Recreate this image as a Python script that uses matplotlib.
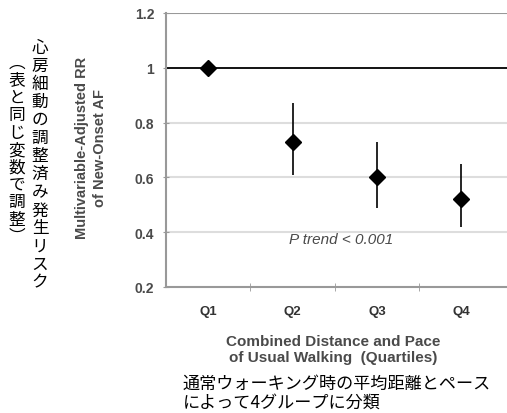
import matplotlib.pyplot as plt
from matplotlib.ticker import FixedLocator

plt.rcParams['font.family'] = ['Liberation Sans', 'Noto Sans CJK JP', 'DejaVu Sans']

quartiles = ['Q1', 'Q2', 'Q3', 'Q4']
rr = [1.0, 0.73, 0.60, 0.52]
ci_low = [1.0, 0.61, 0.49, 0.42]
ci_high = [1.0, 0.87, 0.73, 0.65]
yticks = [0.2, 0.4, 0.6, 0.8, 1.0, 1.2]
ytick_labels = ['0.2', '0.4', '0.6', '0.8', '1', '1.2']

GREY = '#4a4a4a'
JP = ['Noto Sans CJK JP']

fig = plt.figure(figsize=(5.07, 4.14), dpi=100)
ax = fig.add_axes([166 / 507, 1 - 288 / 414, 1 - 166 / 507, 274 / 414])

x = range(1, len(quartiles) + 1)
ax.errorbar(x, rr,
            yerr=[[r - lo for r, lo in zip(rr, ci_low)],
                  [hi - r for r, hi in zip(rr, ci_high)]],
            fmt='D', color='black', ms=8.5, elinewidth=1.2, capsize=0,
            zorder=3)

for y in (0.4, 0.6, 0.8):
    ax.axhline(y, color='#dddddd', lw=1.5, zorder=1)
ax.axhline(1.2, color='#999999', lw=1.5, zorder=1)
ax.axhline(1.0, color='black', lw=1.3, zorder=2)

ax.set_xlim(0.5, 4.54)
ax.set_ylim(0.2, 1.2)
ax.set_xticks(list(x))
ax.set_xticklabels(quartiles, fontsize=9.5, fontweight='bold', color='#333333')
ax.xaxis.set_minor_locator(FixedLocator([1.5, 2.5, 3.5]))
ax.tick_params(axis='x', which='major', length=0, pad=13)
ax.tick_params(axis='x', which='minor', length=6, direction='inout',
               color='#999999')
ax.set_yticks(yticks)
ax.set_yticklabels(ytick_labels, fontsize=10, fontweight='bold', color=GREY)
ax.tick_params(axis='y', length=5, direction='inout', color='#999999', pad=6)

for side in ('top', 'right'):
    ax.spines[side].set_visible(False)
ax.spines['left'].set_color('#999999')
ax.spines['bottom'].set_color('#999999')
ax.spines['left'].set_linewidth(1.5)
ax.spines['bottom'].set_linewidth(1.5)

ax.text(2.58, 0.375, 'P trend < 0.001', fontsize=11, style='italic',
        color=GREY, ha='center', va='center')

fig.text(91 / 507, 1 - 148 / 414,
         'Multivariable-Adjusted RR\nof New-Onset AF',
         rotation=90, ha='center', va='center', fontsize=10.5,
         fontweight='bold', color=GREY, linespacing=1.3)

fig.text(333 / 507, 1 - 350 / 414,
         'Combined Distance and Pace\nof Usual Walking  (Quartiles)',
         ha='center', va='center', fontsize=11, fontweight='bold',
         color=GREY, linespacing=1.25)

fig.text(183 / 507, 1 - 393 / 414,
         '通常ウォーキング時の平均距離とペース\nによって4グループに分類',
         ha='left', va='center', fontsize=12.3, family=JP,
         linespacing=1.05)

col1 = '心房細動の調整済み発生リスク'
col2 = '︵表と同じ変数で調整︶'
fig.text(40 / 507, 1 - 40 / 414, '\n'.join(col1), ha='center', va='top',
         fontsize=12, family=JP, linespacing=1.08)
fig.text(17 / 507, 1 - 55 / 414, '\n'.join(col2), ha='center', va='top',
         fontsize=12, family=JP, linespacing=1.03)

fig.savefig('out.png', dpi=100)
